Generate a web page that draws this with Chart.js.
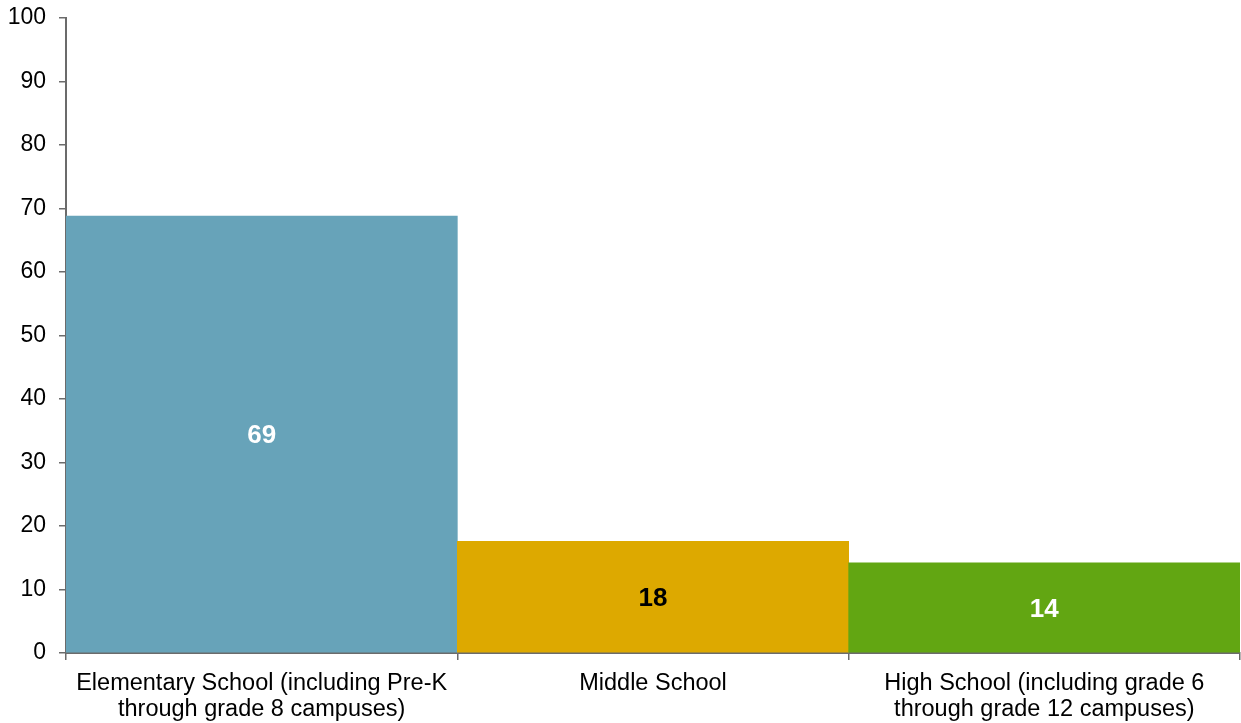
<!DOCTYPE html>
<html>
<head>
<meta charset="utf-8">
<script src="https://cdn.jsdelivr.net/npm/chart.js@4/dist/chart.umd.min.js"></script>
<style>
  html, body { margin: 0; padding: 0; background: #fff; }
  #wrap { width: 1241px; height: 723px; }
</style>
</head>
<body>
<div id="wrap"><canvas id="chart"></canvas></div>
<script>
const categories = [
  ['Elementary School (including Pre-K', 'through grade 8 campuses)'],
  ['Middle School'],
  ['High School (including grade 6', 'through grade 12 campuses)']
];
const values = [68.8, 17.6, 14.2];
const barColors = ['#67a3b9', '#dda900', '#62a612'];
const labelColors = ['#ffffff', '#000000', '#ffffff'];
const yTicks = [0, 10, 20, 30, 40, 50, 60, 70, 80, 90, 100];

const axisColor = '#6b6b6b';
const font = 'Liberation Sans, Arial, sans-serif';

// value labels drawn in the middle of each bar
const barLabels = {
  id: 'barLabels',
  afterDatasetsDraw(chart) {
    const ctx = chart.ctx;
    const meta = chart.getDatasetMeta(0);
    ctx.save();
    ctx.font = 'bold 26px ' + font;
    ctx.textAlign = 'center';
    ctx.textBaseline = 'middle';
    meta.data.forEach((bar, i) => {
      const mid = (bar.y + bar.base) / 2;
      ctx.fillStyle = labelColors[i];
      ctx.fillText(String(Math.round(values[i])), bar.x, mid + 2);
    });
    ctx.restore();
  }
};

new Chart(document.getElementById('chart'), {
  type: 'bar',
  data: {
    labels: categories,
    datasets: [{
      data: values,
      backgroundColor: barColors,
      borderWidth: 0,
      barPercentage: 1,
      categoryPercentage: 1
    }]
  },
  options: {
    responsive: true,
    maintainAspectRatio: false,
    animation: false,
    layout: { padding: { top: 18, right: 1, left: 0, bottom: 0 } },
    plugins: { legend: { display: false }, tooltip: { enabled: false } },
    scales: {
      x: {
        offset: true,
        grid: {
          offset: true,
          drawOnChartArea: false,
          drawTicks: true,
          tickLength: 7,
          color: axisColor,
          lineWidth: 1.5
        },
        border: { display: true, color: axisColor, width: 2 },
        ticks: {
          color: '#000',
          font: { family: font, size: 23.5, lineHeight: 1.1 },
          padding: 11,
          maxRotation: 0,
          autoSkip: false
        },
        afterFit(scale) {
          scale.height = 70;
          scale.paddingLeft = 0;
          scale.paddingRight = 0;
        }
      },
      y: {
        min: 0,
        max: 100,
        afterBuildTicks(scale) { scale.ticks = yTicks.map(v => ({ value: v })); },
        grid: {
          drawOnChartArea: false,
          drawTicks: true,
          tickLength: 7,
          color: axisColor,
          lineWidth: 1.5
        },
        border: { display: true, color: axisColor, width: 2 },
        ticks: {
          color: '#000',
          font: { family: font, size: 23 },
          padding: 13
        },
        afterFit(scale) {
          scale.width = 66;
          scale.paddingTop = 0;
          scale.paddingBottom = 0;
        }
      }
    }
  },
  plugins: [barLabels]
});
</script>
</body>
</html>
